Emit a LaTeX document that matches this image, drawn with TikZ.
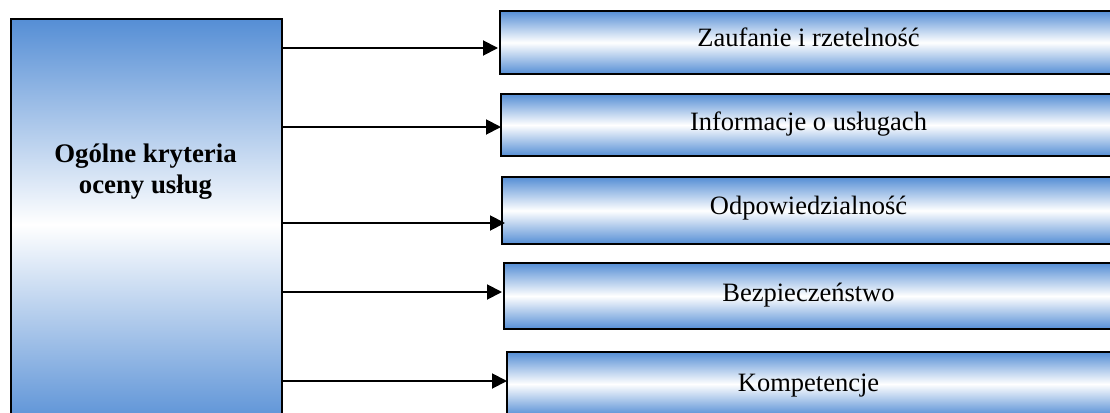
\documentclass[tikz,border=0pt]{standalone}
\usepackage{fontspec}
\setmainfont{Liberation Serif}
\usetikzlibrary{arrows.meta}
\definecolor{boxblue}{RGB}{85,142,213}
\tikzset{
  every picture/.style={x=1pt,y=-1pt},
  shadedbox/.style={rectangle, draw=black, line width=2pt, inner sep=0pt, outer sep=0pt,
    top color=boxblue, bottom color=boxblue, middle color=white},
  lbl/.style={anchor=base, inner sep=0pt, font=\fontsize{26.5}{31}\selectfont},
  arr/.style={line width=1.9pt, -{Triangle[length=15pt,width=15pt]}},
}
\begin{document}
\begin{tikzpicture}
  \path[use as bounding box, fill=white] (0,0) rectangle (1110,412);
  \clip (0,0) rectangle (1110,412);

  % main criteria block
  \node[shadedbox, minimum width=271pt, minimum height=411pt] (main) at (146.5,224.5) {};
  \node[lbl, font=\fontsize{26.8}{30.7}\selectfont\bfseries, align=center, anchor=base] (mt) at (145.5,193.3)
    {Ogólne kryteria\\oceny usług};

  % individual criteria
  \node[shadedbox, minimum width=618pt, minimum height=63pt] (b1) at (809,42.5) {};
  \node[shadedbox, minimum width=617pt, minimum height=62pt] (b2) at (809.5,125) {};
  \node[shadedbox, minimum width=616pt, minimum height=67pt] (b3) at (810,210.5) {};
  \node[shadedbox, minimum width=614pt, minimum height=66pt] (b4) at (811,296) {};
  \node[shadedbox, minimum width=611pt, minimum height=64pt] (b5) at (812.5,384) {};

  \node[lbl] (t1) at (808.5,47) {Zaufanie i rzetelność};
  \node[lbl] (t2) at (808.5,130.5) {Informacje o usługach};
  \node[lbl] (t3) at (808.5,214.5) {Odpowiedzialność};
  \node[lbl] (t4) at (808.5,301.5) {Bezpieczeństwo};
  \node[lbl] (t5) at (808.5,391.5) {Kompetencje};

  % connector heights
  \coordinate (y1) at (0,48);
  \coordinate (y2) at (0,127);
  \coordinate (y3) at (0,223);
  \coordinate (y4) at (0,292);
  \coordinate (y5) at (0,381);

  \draw[arr] (main.east |- y1) -- ([xshift=-2pt]b1.west |- y1);
  \draw[arr] (main.east |- y2) -- (b2.west |- y2);
  \draw[arr] (main.east |- y3) -- ([xshift=3pt]b3.west |- y3);
  \draw[arr] (main.east |- y4) -- ([xshift=-2pt]b4.west |- y4);
  \draw[arr] (main.east |- y5) -- (b5.west |- y5);
\end{tikzpicture}
\end{document}
